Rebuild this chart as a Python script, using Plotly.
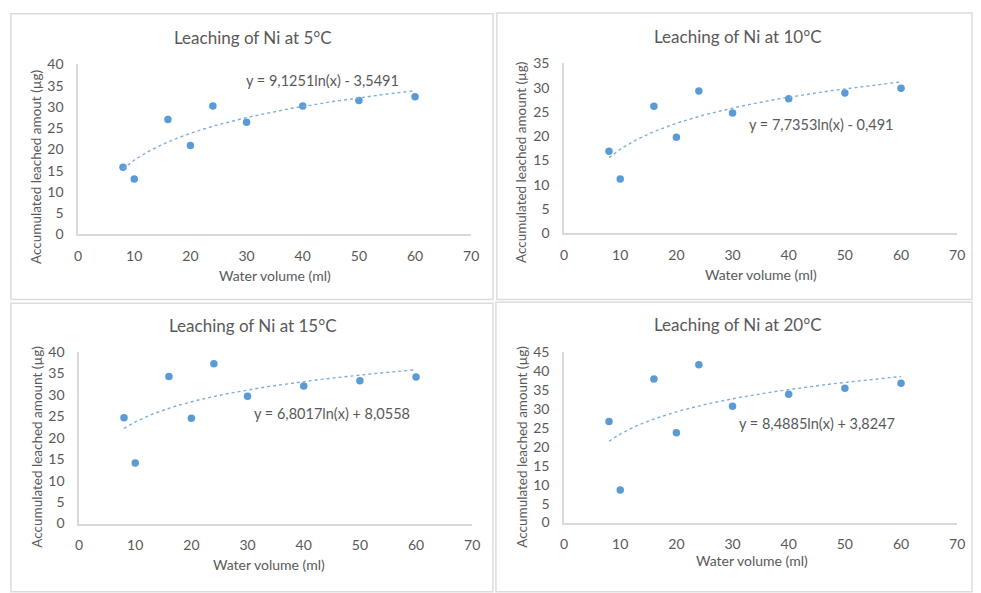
import numpy as np
import plotly.graph_objects as go

# ---------------- data ----------------
water_volume = [8, 10, 16, 20, 24, 30, 40, 50, 60]
ni_5C = [15.8, 13.0, 27.0, 20.9, 30.2, 26.4, 30.2, 31.5, 32.4]
ni_10C = [16.9, 11.2, 26.2, 19.8, 29.3, 24.8, 27.7, 28.9, 29.9]
ni_15C = [24.7, 14.1, 34.3, 24.6, 37.3, 29.7, 32.1, 33.3, 34.2]
ni_20C = [26.7, 8.6, 37.9, 23.7, 41.7, 30.7, 33.9, 35.5, 36.8]

titles = ["Leaching of Ni at 5°C", "Leaching of Ni at 10°C",
          "Leaching of Ni at 15°C", "Leaching of Ni at 20°C"]
y_titles = ["Accumulated leached amout (µg)", "Accumulated leached amount (µg)",
            "Accumulated leached amount (µg)", "Accumulated leached amount (µg)"]
# log trendline coefficients as printed on the chart: y = a*ln(x) + b
trend_a = [9.1251, 7.7353, 6.8017, 8.4885]
trend_b = [-3.5491, -0.491, 8.0558, 3.8247]
equations = ["y = 9,1251ln(x) - 3,5491", "y = 7,7353ln(x) - 0,491",
             "y = 6,8017ln(x) + 8,0558", "y = 8,4885ln(x) + 3,8247"]
eq_pos = [(43.6, 36.1), (45.9, 22.4), (45.1, 25.6), (45.1, 26.2)]
y_max = [40, 35, 40, 45]
x_ticks = [0, 10, 20, 30, 40, 50, 60, 70]

series = [ni_5C, ni_10C, ni_15C, ni_20C]

# ---------------- layout geometry (pixels) ----------------
W, H = 981, 593
areas = [(75, 473, 232, 57), (567, 965, 231, 56),
         (76, 474, 529.7, 353.3), (567, 965, 528.7, 353.3)]
title_px = [(252, 29), (743, 28), (252, 326), (743, 325)]
xtitle_px = [(274, 274), (766, 273), (268, 572), (757, 568)]
ytitle_px = [(33, 163), (524, 158), (33, 451), (524, 451)]
panels = [(7, 5, 495, 299), (499, 4, 980, 299), (7, 303, 495, 600), (498, 302, 980, 600)]

BLUE = "#5B9BD5"
TEXT = "#595959"
AXIS = "#D9D9D9"
FONT = "Lato"

def px_x(v):
    return v / W

def px_y(v):
    return 1 - v / H

fig = go.Figure()
annotations = []
shapes = []

for i in range(4):
    n = i + 1
    xa = "x" if n == 1 else f"x{n}"
    ya = "y" if n == 1 else f"y{n}"
    x0, x1, yb, yt = areas[i]

    fig.add_trace(go.Scatter(
        x=water_volume, y=series[i], mode="markers",
        marker=dict(color=BLUE, size=7.5),
        xaxis=xa, yaxis=ya, showlegend=False, cliponaxis=False))

    xs = np.linspace(water_volume[0], water_volume[-1], 200)
    ys = trend_a[i] * np.log(xs) + trend_b[i]
    fig.add_trace(go.Scatter(
        x=xs, y=ys, mode="lines",
        line=dict(color="#7FAEDB", width=1.4, dash="dot"),
        xaxis=xa, yaxis=ya, showlegend=False, hoverinfo="skip"))

    xkey = "xaxis" if n == 1 else f"xaxis{n}"
    ykey = "yaxis" if n == 1 else f"yaxis{n}"
    fig.update_layout(**{
        xkey: dict(domain=[px_x(x0), px_x(x1)], anchor=ya, range=[0, 70],
                   tickvals=x_ticks, showgrid=False, zeroline=False,
                   showline=True, linecolor=AXIS, linewidth=1.5,
                   ticks="", ticklabelstandoff=8,
                   tickfont=dict(family=FONT, size=14, color=TEXT)),
        ykey: dict(domain=[px_y(yb), px_y(yt)], anchor=xa, range=[0, y_max[i]],
                   dtick=5, showgrid=False, zeroline=False,
                   showline=True, linecolor=AXIS, linewidth=1.5,
                   ticks="", ticklabelstandoff=10,
                   tickfont=dict(family=FONT, size=14, color=TEXT)),
    })

    annotations.append(dict(text=titles[i], x=px_x(title_px[i][0]), y=px_y(title_px[i][1]),
                            xref="paper", yref="paper", showarrow=False,
                            xanchor="center", yanchor="middle",
                            font=dict(family=FONT, size=17, color=TEXT)))
    annotations.append(dict(text="Water volume (ml)", x=px_x(xtitle_px[i][0]), y=px_y(xtitle_px[i][1]),
                            xref="paper", yref="paper", showarrow=False,
                            xanchor="center", yanchor="middle",
                            font=dict(family=FONT, size=14, color=TEXT)))
    annotations.append(dict(text=y_titles[i], x=px_x(ytitle_px[i][0]), y=px_y(ytitle_px[i][1]),
                            xref="paper", yref="paper", showarrow=False, textangle=-90,
                            xanchor="center", yanchor="middle",
                            font=dict(family=FONT, size=13.5, color=TEXT)))
    annotations.append(dict(text=equations[i], x=eq_pos[i][0], y=eq_pos[i][1],
                            xref=xa, yref=ya, showarrow=False,
                            xanchor="center", yanchor="middle",
                            font=dict(family=FONT, size=14.5, color=TEXT)))

    bx0, by0, bx1, by1 = panels[i]
    shapes.append(dict(type="rect", xref="paper", yref="paper",
                       x0=px_x(bx0), x1=px_x(bx1), y0=px_y(by1), y1=px_y(by0),
                       line=dict(color="#DCDCDC", width=1.5), layer="below"))

fig.update_layout(width=W, height=H, margin=dict(l=0, r=0, t=0, b=0),
                  paper_bgcolor="white", plot_bgcolor="white",
                  annotations=annotations, shapes=shapes, showlegend=False)

fig.write_html("out.html")
